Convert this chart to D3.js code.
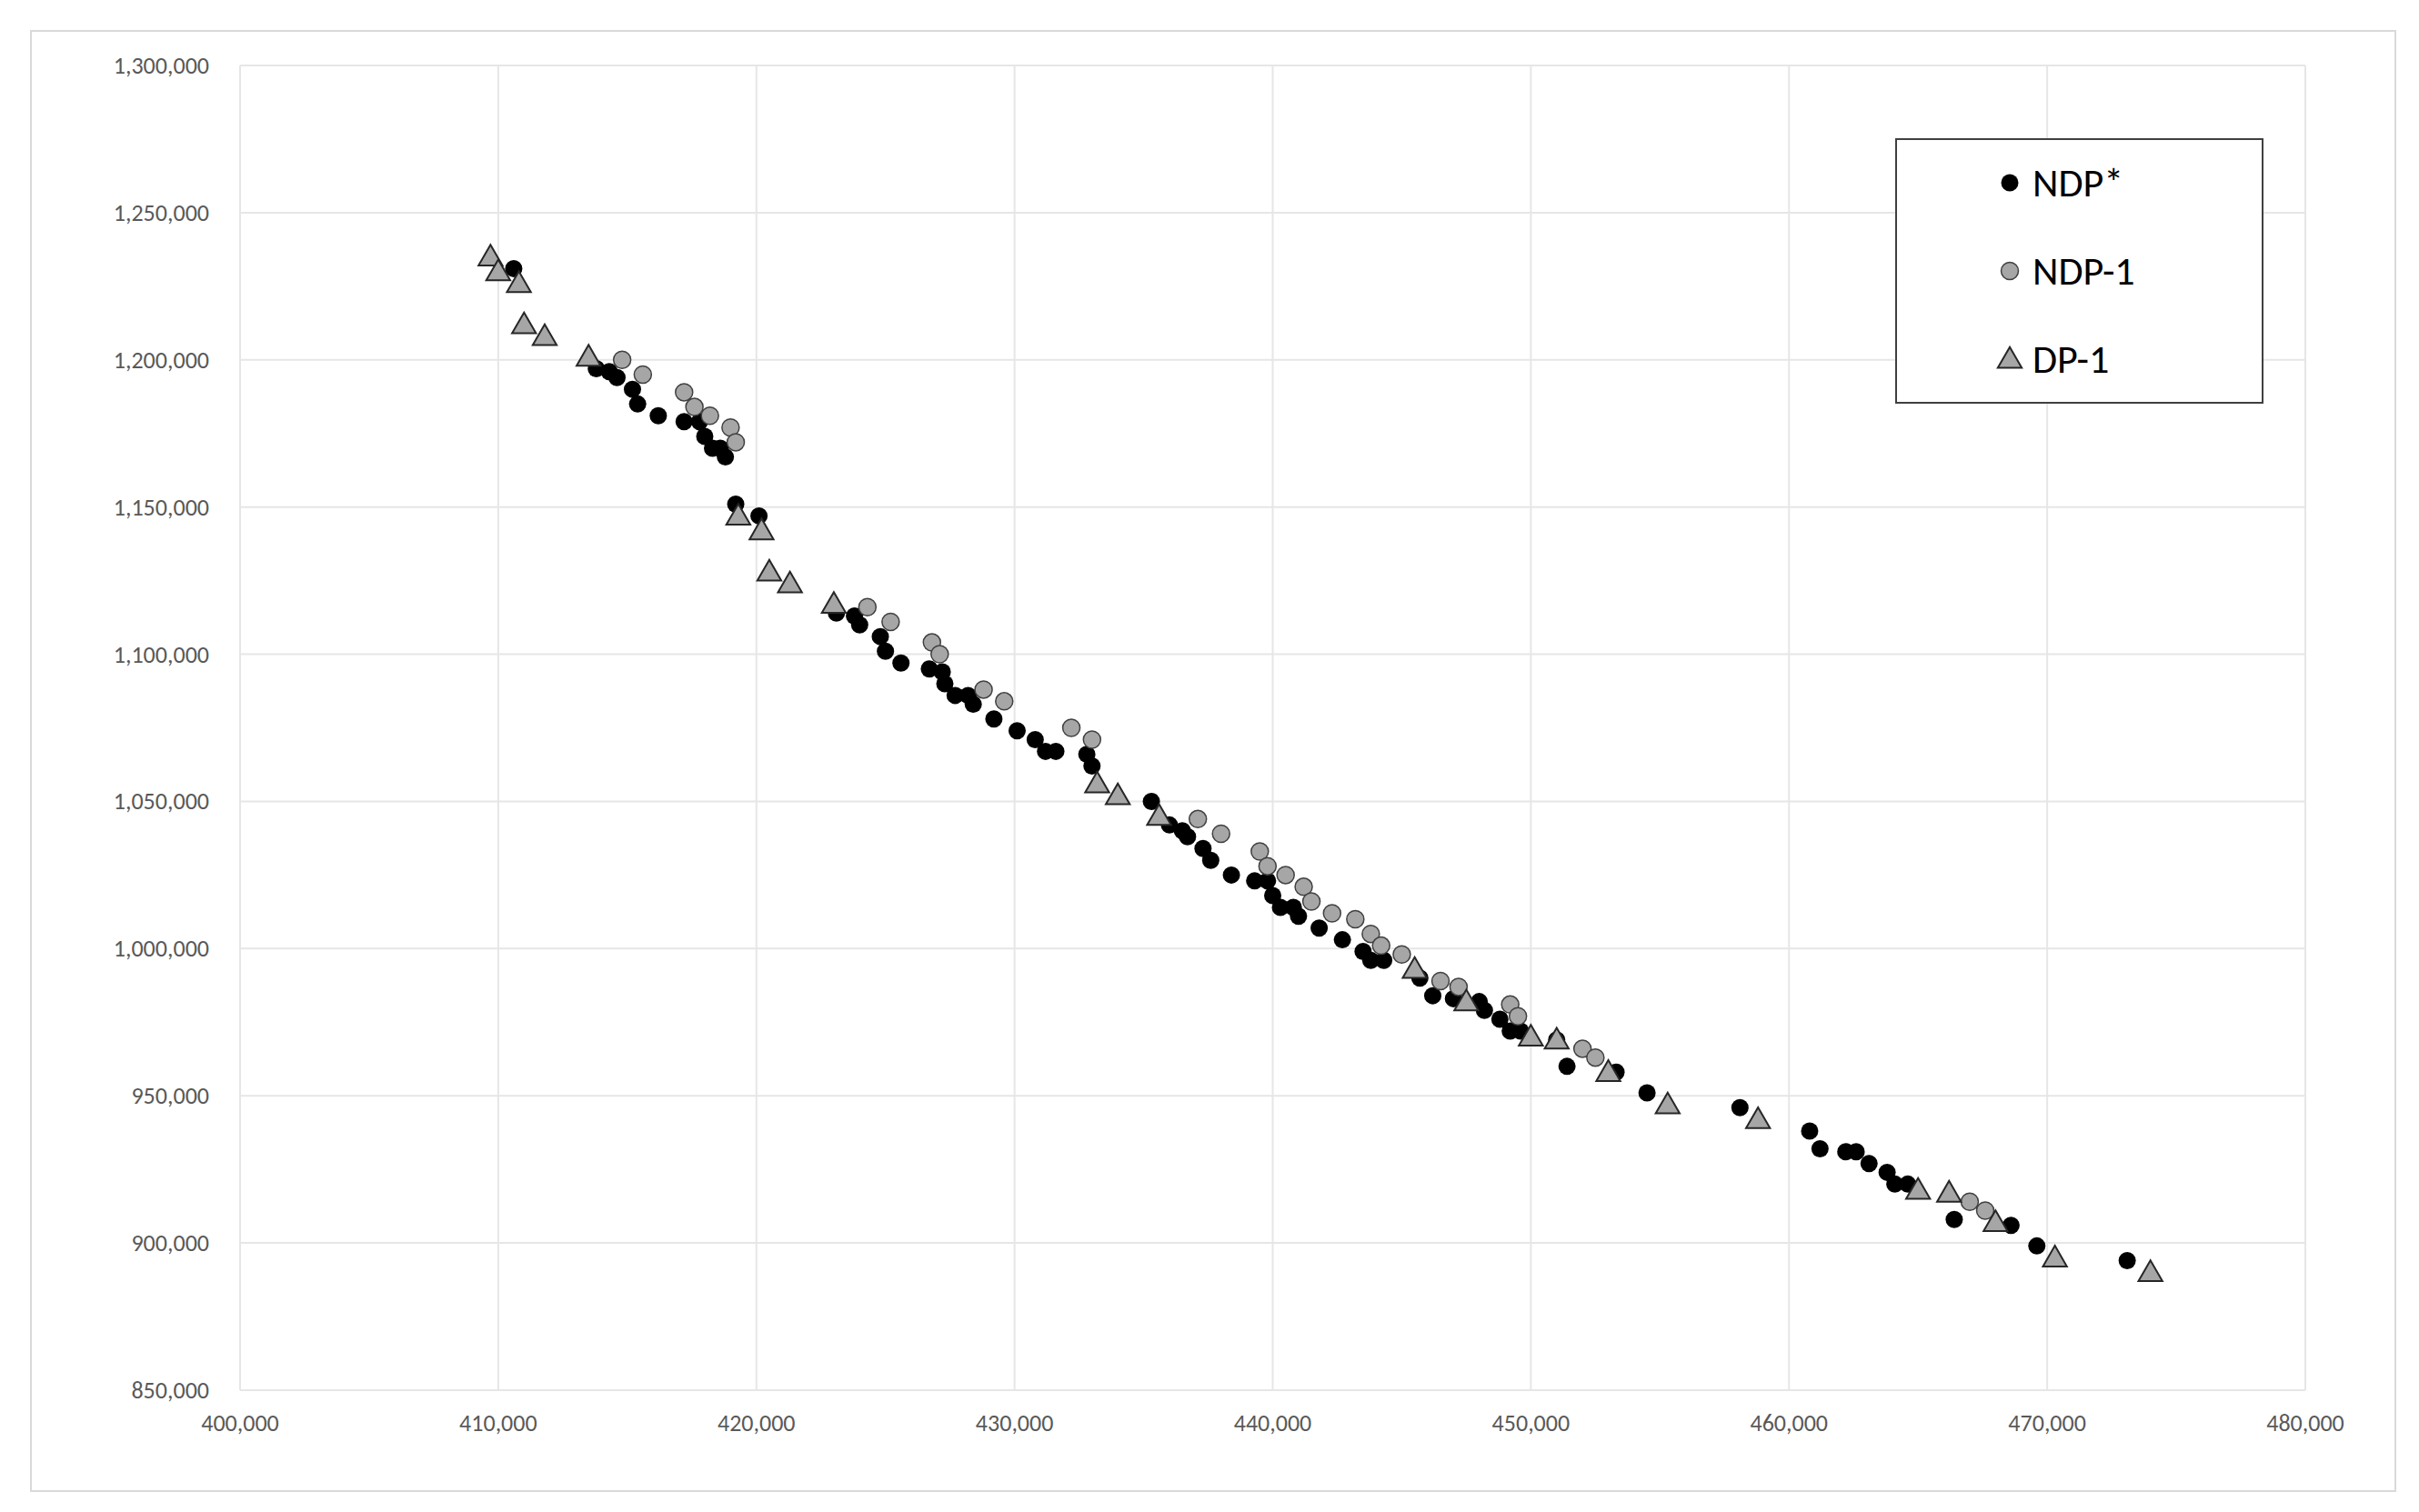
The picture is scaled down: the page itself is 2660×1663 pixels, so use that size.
<!DOCTYPE html>
<html>
<head>
<meta charset="utf-8">
<script src="https://cdn.jsdelivr.net/npm/d3@7"></script>
<style>
  body { margin: 0; background: #fff; }
  svg { font-family: Calibri, Carlito, "Liberation Sans", "Open Sans", sans-serif; }
</style>
</head>
<body>
<div id="chart"></div>
<script>
// values in thousands
var ndpStar = [
  [410.6,1231],[413.8,1197],[414.3,1196],[414.6,1194],[415.2,1190],[415.4,1185],[416.2,1181],
  [417.2,1179],[417.8,1179],[418,1174],[418.3,1170],[418.6,1170],[418.8,1167],[419.2,1151],
  [420.1,1147],[423.1,1114],[423.8,1113],[424,1110],[424.8,1106],[425,1101],[425.6,1097],
  [426.7,1095],[427.2,1094],[427.3,1090],[427.7,1086],[428.2,1086],[428.4,1083],[429.2,1078],
  [430.1,1074],[430.8,1071],[431.2,1067],[431.6,1067],[432.8,1066],[433,1062],[435.3,1050],
  [436,1042],[436.5,1040],[436.7,1038],[437.3,1034],[437.6,1030],[438.4,1025],[439.3,1023],
  [439.8,1023],[440,1018],[440.3,1014],[440.8,1014],[441,1011],[441.8,1007],[442.7,1003],
  [443.5,999],[443.8,996],[444.3,996],[445.7,990],[446.2,984],[447,983],[448,982],[448.2,979],
  [448.8,976],[449.2,972],[449.6,972],[451,969],[451.4,960],[453.3,958],[454.5,951],[458.1,946],
  [460.8,938],[461.2,932],[462.2,931],[462.6,931],[463.1,927],[463.8,924],[464.1,920],[464.6,920],
  [466.4,908],[468.6,906],[469.6,899],[473.1,894]
];
var ndp1 = [
  [414.8,1200],[415.6,1195],[417.2,1189],[417.6,1184],[418.2,1181],[419,1177],[419.2,1172],
  [424.3,1116],[425.2,1111],[426.8,1104],[427.1,1100],[428.8,1088],[429.6,1084],[432.2,1075],
  [433,1071],[437.1,1044],[438,1039],[439.5,1033],[439.8,1028],[440.5,1025],[441.2,1021],
  [441.5,1016],[442.3,1012],[443.2,1010],[443.8,1005],[444.2,1001],[445,998],[446.5,989],
  [447.2,987],[449.2,981],[449.5,977],[452,966],[452.5,963],[467,914],[467.6,911]
];
var dp1 = [
  [409.7,1235],[410,1230],[410.8,1226],[411,1212],[411.8,1208],[413.5,1201],[419.3,1147],
  [420.2,1142],[420.5,1128],[421.3,1124],[423,1117],[433.2,1056],[434,1052],[435.6,1045],
  [445.5,993],[447.5,982],[450,970],[451,969],[453,958],[455.3,947],[458.8,942],[465,918],
  [466.2,917],[468,907],[470.3,895],[474,890]
];
var xTicks = [400,410,420,430,440,450,460,470,480];
var yTicks = [850,900,950,1000,1050,1100,1150,1200,1250,1300];
var seriesNames = ["NDP*", "NDP-1", "DP-1"];

const W = 2660, H = 1663;
const plotL = 264, plotR = 2535, plotT = 72, plotB = 1529;

const svg = d3.select("#chart").append("svg").attr("width", W).attr("height", H);

// outer chart border
svg.append("rect").attr("x", 34).attr("y", 34).attr("width", 2600).attr("height", 1606)
  .attr("fill", "#fff").attr("stroke", "#d9d9d9").attr("stroke-width", 2);

var x = d3.scaleLinear().domain([400, 480]).range([plotL, plotR]);
var y = d3.scaleLinear().domain([850, 1300]).range([plotB, plotT]);
var fmt = d3.format(",");

// gridlines
svg.append("g").selectAll("line").data(xTicks).enter().append("line")
  .attr("x1", d => x(d)).attr("x2", d => x(d)).attr("y1", plotT).attr("y2", plotB)
  .attr("stroke", "#e6e6e6").attr("stroke-width", 2);
svg.append("g").selectAll("line").data(yTicks).enter().append("line")
  .attr("x1", plotL).attr("x2", plotR).attr("y1", d => y(d)).attr("y2", d => y(d))
  .attr("stroke", "#e6e6e6").attr("stroke-width", 2);

// tick labels
svg.append("g").selectAll("text").data(xTicks).enter().append("text")
  .attr("x", d => x(d)).attr("y", plotB + 45)
  .attr("text-anchor", "middle").attr("font-size", 26).attr("fill", "#595959")
  .text(d => fmt(d * 1000));
svg.append("g").selectAll("text").data(yTicks).enter().append("text")
  .attr("x", plotL - 34).attr("y", d => y(d) + 9)
  .attr("text-anchor", "end").attr("font-size", 26).attr("fill", "#595959")
  .text(d => fmt(d * 1000));

var tri = d3.symbol().type(d3.symbolTriangle).size(300);

// draw NDP*, then NDP-1, then DP-1 on top
svg.append("g").selectAll("circle").data(ndpStar).enter().append("circle")
  .attr("cx", d => x(d[0])).attr("cy", d => y(d[1])).attr("r", 9.5)
  .attr("fill", "#000");
svg.append("g").selectAll("circle").data(ndp1).enter().append("circle")
  .attr("cx", d => x(d[0])).attr("cy", d => y(d[1])).attr("r", 9.5)
  .attr("fill", "#a6a6a6").attr("stroke", "#404040").attr("stroke-width", 1.5);
svg.append("g").selectAll("path").data(dp1).enter().append("path")
  .attr("d", tri).attr("transform", d => "translate(" + x(d[0]) + "," + (y(d[1]) + 2) + ")")
  .attr("fill", "#a6a6a6").attr("stroke", "#262626").attr("stroke-width", 2);

// legend
var lg = svg.append("g").attr("transform", "translate(2085,153)");
lg.append("rect").attr("width", 403).attr("height", 290)
  .attr("fill", "#fff").attr("stroke", "#404040").attr("stroke-width", 2);
seriesNames.forEach(function (name, i) {
  var cy = 48 + i * 97;
  if (i == 0) lg.append("circle").attr("cx", 125).attr("cy", cy).attr("r", 9.5).attr("fill", "#000");
  if (i == 1) lg.append("circle").attr("cx", 125).attr("cy", cy).attr("r", 9.5)
    .attr("fill", "#a6a6a6").attr("stroke", "#404040").attr("stroke-width", 1.5);
  if (i == 2) lg.append("path").attr("d", tri).attr("transform", "translate(125," + (cy + 2) + ")")
    .attr("fill", "#a6a6a6").attr("stroke", "#262626").attr("stroke-width", 2);
  lg.append("text").attr("x", 150).attr("y", cy + 15).attr("font-size", 44)
    .attr("fill", "#000").text(name);
});
</script>
</body>
</html>
